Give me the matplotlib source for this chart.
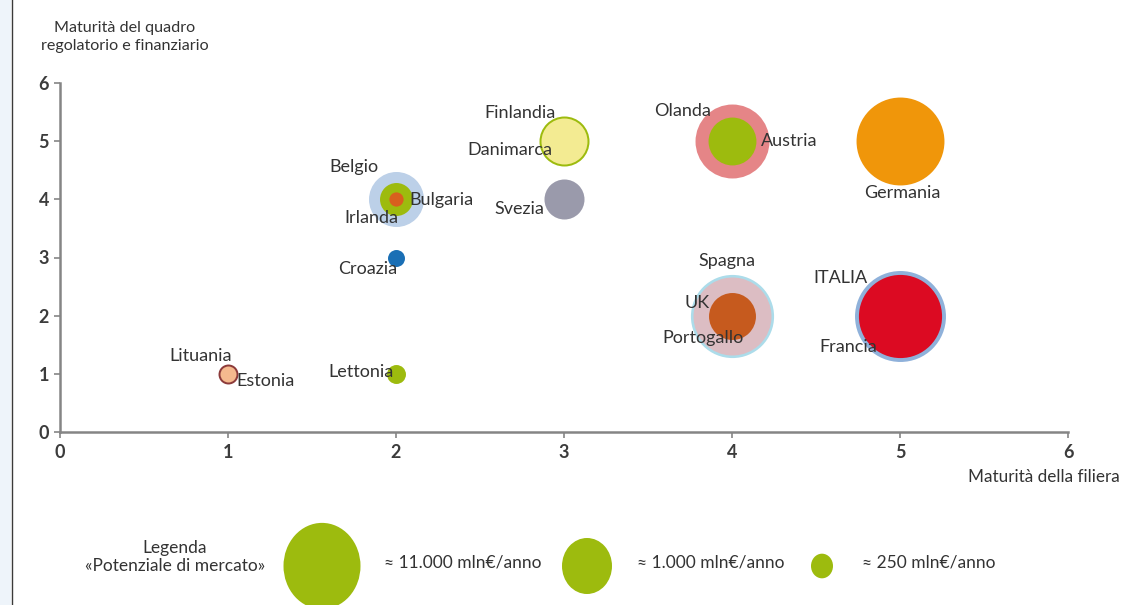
import numpy as np
import matplotlib
matplotlib.use("Agg")
import matplotlib.pyplot as plt
from matplotlib.patches import Ellipse, Rectangle

plt.rcParams["font.family"] = ["Lato", "DejaVu Sans"]

# Paesi: maturità della filiera (x), maturità del quadro regolatorio (y),
# potenziale di mercato stimato (mln€/anno). Ordine = ordine di disegno.
paesi = ["Francia", "ITALIA", "Germania", "Olanda", "Austria",
         "Spagna", "UK", "Portogallo", "Finlandia", "Danimarca", "Svezia",
         "Belgio", "Bulgaria", "Irlanda", "Croazia", "Lettonia",
         "Lituania", "Estonia"]
filiera = [5, 5, 5, 4, 4, 4, 4, 4, 3, 3, 3, 2, 2, 2, 2, 2, 1, 1]
quadro = [2, 2, 5, 5, 5, 2, 2, 2, 5, 5, 4, 4, 4, 4, 3, 1, 1, 1]
potenziale = [38000, 19000, 29000, 8400, 900,
              19000, 12000, 860, 1000, 820, 610,
              1560, 430, 170, 195, 215, 226, 186]
colori = ["#8fb1da", "#dc0a22", "#f0960a", "#e58587", "#9dbb0e",
          "#acdcea", "#dcbdc3", "#c65a1e", "#9dbb0e", "#f3eb92", "#9a9aab",
          "#bcd0e8", "#9dbb0e", "#d8601e", "#1a6fb5", "#9dbb0e",
          "#8c3a3a", "#f5b98e"]
# spostamento etichette in pixel rispetto al centro della bolla
etichetta_dx = [-52, -60, 2, -49, 57, -5, -35, -29, -44, -54, -45,
                -42, 45, -25, -28, -35, -27, 37]
etichetta_dy = [-31, 38, -52, 30, 0, 55, 13, -22, 28, -9, -10,
                32, -1, -19, -12, 2, 18, -7]

# legenda "Potenziale di mercato"
legenda_valori = [11000, 1000, 250]
legenda_testi = ["≈ 11.000 mln€/anno", "≈ 1.000 mln€/anno", "≈ 250 mln€/anno"]

SCALA_V = np.log10([250, 1000, 11000])
SCALA_R = np.array([11.0, 25.0, 38.5])


def raggio(v):
    lv = np.log10(v)
    if lv < SCALA_V[0]:
        k = (SCALA_R[1] - SCALA_R[0]) / (SCALA_V[1] - SCALA_V[0])
        return SCALA_R[0] + k * (lv - SCALA_V[0])
    if lv > SCALA_V[-1]:
        k = (SCALA_R[-1] - SCALA_R[-2]) / (SCALA_V[-1] - SCALA_V[-2])
        return SCALA_R[-1] + k * (lv - SCALA_V[-1])
    return np.interp(lv, SCALA_V, SCALA_R)


W, H, DPI = 1128, 605, 100
fig = plt.figure(figsize=(W / DPI, H / DPI), dpi=DPI)
fig.patch.set_facecolor("white")
PX = 72 / DPI  # punti per pixel

# banda laterale sinistra
fig.patches.append(Rectangle((0, 0), 11 / W, 1, transform=fig.transFigure,
                             facecolor="#eef4fa", edgecolor="none"))
fig.lines.append(plt.Line2D([12 / W, 12 / W], [0, 1], transform=fig.transFigure,
                            color="#3a3a3a", lw=1))

ax = fig.add_axes([60 / W, (H - 432) / H, 1008 / W, 349 / H])
ax.set_xlim(0, 6)
ax.set_ylim(0, 6)
for s in ("top", "right"):
    ax.spines[s].set_visible(False)
for s in ("left", "bottom"):
    ax.spines[s].set_color("#858585")
    ax.spines[s].set_linewidth(1.8)
ax.tick_params(length=4, width=1.2, color="#858585", labelsize=13,
               labelcolor="#3c3c3c", pad=4)
ax.set_xticks(range(7))
ax.set_yticks(range(7))
for lab in ax.get_xticklabels() + ax.get_yticklabels():
    lab.set_fontweight("bold")
ax.xaxis.set_tick_params(pad=5)

testo = "#333333"
for i, p in enumerate(paesi):
    r = raggio(potenziale[i])
    ax.scatter(filiera[i], quadro[i], s=(2 * r * PX) ** 2, color=colori[i],
               linewidths=0, zorder=2 + i * 0.01, clip_on=False)
for i, p in enumerate(paesi):
    ax.annotate(p, (filiera[i], quadro[i]),
                xytext=(etichetta_dx[i] * PX, etichetta_dy[i] * PX),
                textcoords="offset points", ha="center", va="center",
                fontsize=13, color=testo, zorder=5)

fig.text(125 / W, 1 - 37 / H, "Maturità del quadro\nregolatorio e finanziario",
         ha="center", va="center", fontsize=11.6, color=testo, linespacing=1.3)
fig.text(1120 / W, 1 - 477 / H, "Maturità della filiera",
         ha="right", va="center", fontsize=12.3, color=testo)

# legenda in coordinate pixel
lg = fig.add_axes([0, 0, 1, 100 / H])
lg.set_xlim(0, W)
lg.set_ylim(H, H - 100)
lg.axis("off")
lg.text(175, 557, "Legenda\n«Potenziale di mercato»", ha="center", va="center",
        fontsize=12.5, color=testo, linespacing=1.1)
cx = [322, 587, 822]
tx = [384, 637, 862]
for v, t, x0, x1 in zip(legenda_valori, legenda_testi, cx, tx):
    r = raggio(v)
    lg.add_patch(Ellipse((x0, 566), 2 * r, 2 * r * 1.12, color="#9dbb0e",
                         lw=0, clip_on=False))
    lg.text(x1, 563, t, ha="left", va="center", fontsize=12.5, color=testo)

fig.savefig("out.png", dpi=DPI)
